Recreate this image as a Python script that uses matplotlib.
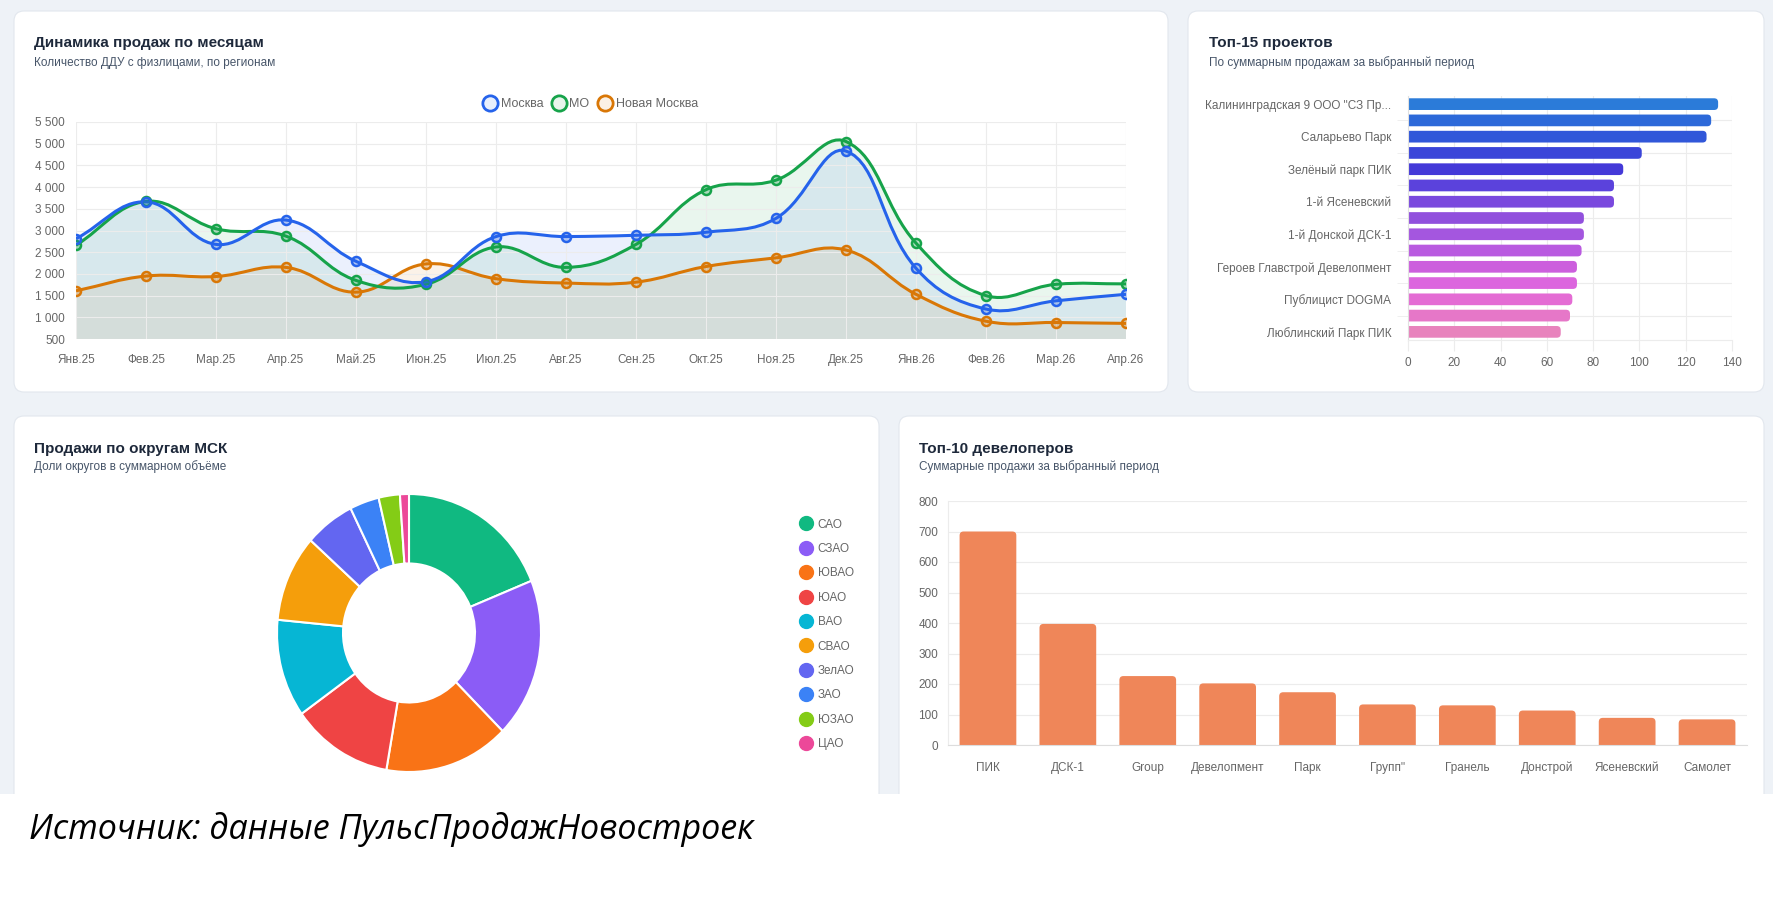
import numpy as np
import matplotlib
matplotlib.use('Agg')
import matplotlib.pyplot as plt
from matplotlib.path import Path
from matplotlib.patches import PathPatch, FancyBboxPatch, Rectangle
from matplotlib.lines import Line2D
from matplotlib.colors import to_rgba

plt.rcParams['font.family'] = ['Liberation Sans', 'DejaVu Sans']

W, H = 1773, 907

# --- data ---
months = ['Янв.25', 'Фев.25', 'Мар.25', 'Апр.25', 'Май.25', 'Июн.25', 'Июл.25', 'Авг.25',
          'Сен.25', 'Окт.25', 'Ноя.25', 'Дек.25', 'Янв.26', 'Фев.26', 'Мар.26', 'Апр.26']
moscow = [2810, 3660, 2680, 3240, 2290, 1820, 2860, 2860, 2890, 2960, 3280, 4830, 2130, 1190, 1380, 1530]
mo = [2660, 3670, 3040, 2870, 1850, 1760, 2620, 2150, 2680, 3940, 4160, 5050, 2710, 1500, 1760, 1770]
new_moscow = [1610, 1950, 1940, 2150, 1580, 2230, 1890, 1790, 1810, 2170, 2370, 2550, 1530, 910, 880, 860]
series_names = ['Москва', 'МО', 'Новая Москва']
series_colors = ['#2563eb', '#16a34a', '#d97706']

project_labels = ['Калининградская 9 ООО "СЗ Пр...', '', 'Саларьево Парк', '', 'Зелёный парк ПИК', '',
                  '1-й Ясеневский', '', '1-й Донской ДСК-1', '', 'Героев Главстрой Девелопмент', '',
                  'Публицист DOGMA', '', 'Люблинский Парк ПИК']
project_sales = [134, 131, 129, 101, 93, 89, 89, 76, 76, 75, 73, 73, 71, 70, 66]
project_colors = ['#2b7bd9', '#2d69d9', '#3157d9', '#3a45d9', '#4439d8', '#5b42dc', '#7a49de', '#9150dd',
                  '#a456df', '#b95ae0', '#cc5fdd', '#dc65de', '#e46cd4', '#e677c8', '#e883bd']

districts = ['САО', 'СЗАО', 'ЮВАО', 'ЮАО', 'ВАО', 'СВАО', 'ЗелАО', 'ЗАО', 'ЮЗАО', 'ЦАО']
district_vals = [189, 186, 153, 124, 114, 101, 61, 36, 26, 11]
district_colors = ['#10b981', '#8b5cf6', '#f97316', '#ef4444', '#06b6d4', '#f59e0b', '#6366f1',
                   '#3b82f6', '#84cc16', '#ec4899']

developers = ['ПИК', 'ДСК-1', 'Group', 'Девелопмент', 'Парк', 'Групп"', 'Гранель', 'Донстрой',
              'Ясеневский', 'Самолет']
dev_sales = [700, 397, 226, 202, 173, 133, 130, 113, 89, 84]

TXT = '#666666'
GRID = '#ececec'

fig = plt.figure(figsize=(W / 100, H / 100), dpi=100)
fig.patch.set_facecolor('white')


def ax_px(l, t, r, b):
    a = fig.add_axes([l / W, 1 - b / H, (r - l) / W, (b - t) / H])
    a.set_facecolor('none')
    return a


def card(l, t, r, b):
    p = FancyBboxPatch((l / 100, (H - b) / 100), (r - l) / 100, (b - t) / 100,
                       boxstyle='round,pad=0,rounding_size=0.1', transform=fig.dpi_scale_trans,
                       fc='white', ec='#e2e7ee', lw=0.8, zorder=-1)
    fig.patches.append(p)


def fig_text(x, y, s, **kw):
    fig.text(x / W, 1 - y / H, s, **kw)


# background
fig.patches.append(Rectangle((0, 1 - 794 / H), 1, 794 / H, transform=fig.transFigure,
                             fc='#eef2f7', ec='none', zorder=-2))
card(14, 11, 1168, 392)
card(1188, 11, 1764, 392)
card(14, 416, 879, 810)
card(899, 416, 1764, 810)
fig.patches.append(Rectangle((0, 0), 1, 1 - 794 / H, transform=fig.transFigure,
                             fc='white', ec='none', zorder=-0.5))

titles = [(34, 43, 63, 'Динамика продаж по месяцам', 'Количество ДДУ с физлицами, по регионам'),
          (1209, 43, 63, 'Топ-15 проектов', 'По суммарным продажам за выбранный период'),
          (34, 449, 467, 'Продажи по округам МСК', 'Доли округов в суммарном объёме'),
          (919, 449, 467, 'Топ-10 девелоперов', 'Суммарные продажи за выбранный период')]
for x, yt, ys, t, s in titles:
    fig_text(x, yt, t, fontsize=11, fontweight='bold', color='#1e293b', va='center')
    fig_text(x, ys, s, fontsize=8.5, color='#475569', va='center')

# --- line chart ---
ax1 = ax_px(76, 122, 1126, 339)
ax1.set_xlim(0, 15)
ax1.set_ylim(500, 5500)
sx = 1050 / 15
sy = 217 / 5000


def spline(xs, ys, t=0.4):
    p = np.column_stack([np.array(xs) * sx, np.array(ys) * sy])
    n = len(p)
    cp_prev, cp_next = [], []
    for i in range(n):
        prv = p[i - 1] if i > 0 else p[i]
        nxt = p[i + 1] if i < n - 1 else p[i]
        d01 = np.hypot(*(p[i] - prv))
        d12 = np.hypot(*(nxt - p[i]))
        s01 = d01 / (d01 + d12)
        s12 = d12 / (d01 + d12)
        cp_prev.append(p[i] - t * s01 * (nxt - prv))
        cp_next.append(p[i] + t * s12 * (nxt - prv))
    verts = [p[0]]
    codes = [Path.MOVETO]
    for i in range(n - 1):
        verts += [cp_next[i], cp_prev[i + 1], p[i + 1]]
        codes += [Path.CURVE4] * 3
    v = np.array(verts) / [sx, sy]
    v[:, 1] = np.clip(v[:, 1], 500, 5500)
    return v, codes


xs = np.arange(len(months))
all_series = [moscow, mo, new_moscow]
for vals, col in zip(all_series[::-1], series_colors[::-1]):
    v, codes = spline(xs, vals)
    fv = np.vstack([v, [[xs[-1], 500], [xs[0], 500], [xs[0], 500]]])
    fc = codes + [Path.LINETO, Path.LINETO, Path.CLOSEPOLY]
    ax1.add_patch(PathPatch(Path(fv, fc), fc=to_rgba(col, 0.09), ec='none', zorder=1))
for vals, col in zip(all_series[::-1], series_colors[::-1]):
    v, codes = spline(xs, vals)
    ax1.add_patch(PathPatch(Path(v, codes), fill=False, ec=col, lw=2.2, zorder=2))
    ax1.plot(xs, vals, 'o', ms=6.5, mfc=to_rgba(col, 0.3), mec=col, mew=1.8, zorder=3)

ax1.set_xticks(xs)
ax1.set_xticklabels(months)
yt = list(range(500, 5501, 500))
ax1.set_yticks(yt)
ax1.set_yticklabels([f'{v:,}'.replace(',', ' ') for v in yt])
ax1.grid(color=GRID, lw=0.8, zorder=0)
ax1.tick_params(length=0, labelsize=8.5, labelcolor=TXT)
ax1.tick_params(axis='x', pad=11)
ax1.tick_params(axis='y', pad=8)
for s in ax1.spines.values():
    s.set_visible(False)
handles = [Line2D([], [], marker='o', ls='none', ms=11, mfc=to_rgba(c, 0.1), mec=c, mew=2)
           for c in series_colors]
ax1.legend(handles, series_names, loc='center', bbox_to_anchor=(590 / W, 1 - 104 / H),
           bbox_transform=fig.transFigure, ncol=3, frameon=False, handlelength=1.3,
           handletextpad=0.2, columnspacing=0.6, fontsize=9, labelcolor=TXT)


def round_bars(ax, bars, horizontal, rpx, ppx, ppy):
    for b in bars:
        x, y, w, h = b.get_x(), b.get_y(), b.get_width(), b.get_height()
        b.remove()
        if horizontal:
            ext = rpx / ppx
            box = FancyBboxPatch((x - ext, y), w + ext, h,
                                 boxstyle=f'round,pad=0,rounding_size={rpx / ppx}',
                                 mutation_aspect=ppx / ppy, fc=b.get_facecolor(), ec='none', zorder=2)
        else:
            ext = rpx / ppy
            box = FancyBboxPatch((x, y - ext), w, h + ext,
                                 boxstyle=f'round,pad=0,rounding_size={rpx / ppx}',
                                 mutation_aspect=ppx / ppy, fc=b.get_facecolor(), ec='none', zorder=2)
        ax.add_patch(box)


# --- top-15 projects ---
ax2 = ax_px(1408, 96, 1732, 340)
yy = np.arange(len(project_sales))
bars2 = ax2.barh(yy, project_sales, height=0.72, color=project_colors)
ax2.set_xlim(0, 140)
ax2.set_ylim(len(yy) - 0.5, -0.5)
round_bars(ax2, bars2, True, 4, 324 / 140, 244 / 15)
ax2.set_xticks(range(0, 141, 20))
ax2.set_yticks(yy[::2])
ax2.set_yticklabels(project_labels[::2])
ax2.set_yticks(yy[1::2], minor=True)
ax2.grid(axis='x', color=GRID, lw=0.8, zorder=0)
ax2.grid(axis='y', which='minor', color=GRID, lw=0.8, zorder=0)
ax2.tick_params(axis='y', which='major', length=0, pad=12, labelsize=8.5, labelcolor=TXT)
ax2.tick_params(axis='y', which='minor', length=8, color=GRID)
ax2.tick_params(axis='x', length=8, color=GRID, labelsize=8.5, labelcolor=TXT, pad=4)
for k in ['top', 'right']:
    ax2.spines[k].set_visible(False)
ax2.spines['left'].set_color('#e0e0e0')
ax2.spines['bottom'].set_color(GRID)

# --- donut ---
ax3 = ax_px(277, 494, 541, 772)
ax3.pie(district_vals, colors=district_colors, startangle=90, counterclock=False,
        wedgeprops=dict(width=0.5, edgecolor='white', linewidth=1.5))
ax3.set_aspect('auto')
ax3.set_xlim(-1.0, 1.0)
ax3.set_ylim(-1.0, 1.0)
dh = [Line2D([], [], marker='o', ls='none', ms=10, mfc=c, mec=c) for c in district_colors]
ax3.legend(dh, districts, loc='upper left', bbox_to_anchor=(788 / W, 1 - 508 / H),
           bbox_transform=fig.transFigure, frameon=False, handlelength=1.2, handletextpad=0.4,
           labelspacing=1.05, fontsize=8.5, labelcolor=TXT)

# --- top-10 developers ---
ax4 = ax_px(948, 501, 1747, 745)
xx = np.arange(len(developers))
bars4 = ax4.bar(xx, dev_sales, width=0.71, color='#ef8659')
ax4.set_xlim(-0.5, len(xx) - 0.5)
ax4.set_ylim(0, 800)
round_bars(ax4, bars4, False, 4, 799 / 10, 244 / 800)
ax4.set_xticks(xx)
ax4.set_xticklabels(developers)
ax4.set_yticks(range(0, 801, 100))
ax4.grid(axis='y', color=GRID, lw=0.8, zorder=0)
ax4.tick_params(axis='x', length=0, pad=12, labelsize=8.5, labelcolor=TXT)
ax4.tick_params(axis='y', length=0, pad=7, labelsize=8.5, labelcolor=TXT)
for k in ['top', 'right']:
    ax4.spines[k].set_visible(False)
ax4.spines['left'].set_color(GRID)
ax4.spines['bottom'].set_color('#dddddd')

fig_text(29, 839, 'Источник: данные ПульсПродажНовостроек', fontsize=24.5, fontstyle='italic',
         family=['Open Sans', 'DejaVu Sans'], color='black', va='baseline')

fig.savefig('out.png', dpi=100)
